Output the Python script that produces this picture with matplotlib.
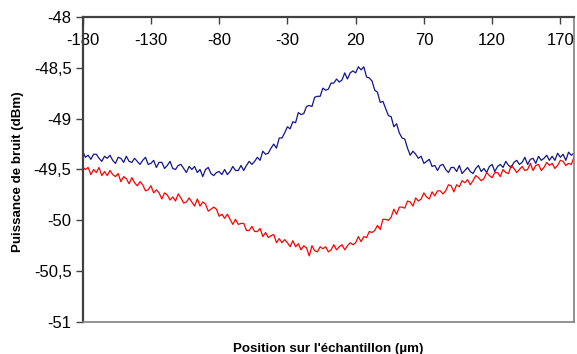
import matplotlib
matplotlib.use("Agg")
import matplotlib.pyplot as plt
import numpy as np
from matplotlib.ticker import FuncFormatter, MultipleLocator

plt.rcParams["font.family"] = ["Liberation Sans", "DejaVu Sans"]
plt.rcParams["axes.unicode_minus"] = False

# position on the sample (um), one reading every 2 um
position = np.arange(-180, 181, 2)

blue_dbm = [
    -49.32, -49.38, -49.36, -49.40, -49.35, -49.35, -49.39, -49.42, -49.37, -49.39,
    -49.36, -49.41, -49.44, -49.38, -49.39, -49.43, -49.37, -49.42, -49.43, -49.39,
    -49.42, -49.45, -49.41, -49.38, -49.45, -49.44, -49.41, -49.48, -49.43, -49.43,
    -49.49, -49.46, -49.42, -49.49, -49.50, -49.46, -49.45, -49.49, -49.53, -49.47,
    -49.50, -49.47, -49.53, -49.50, -49.57, -49.50, -49.48, -49.54, -49.56, -49.53,
    -49.52, -49.55, -49.50, -49.55, -49.52, -49.47, -49.51, -49.51, -49.46, -49.51,
    -49.46, -49.42, -49.45, -49.42, -49.38, -49.41, -49.32, -49.35, -49.34, -49.29,
    -49.25, -49.29, -49.19, -49.19, -49.14, -49.08, -49.10, -49.03, -49.04, -48.94,
    -48.96, -48.95, -48.88, -48.87, -48.88, -48.79, -48.78, -48.78, -48.70, -48.72,
    -48.71, -48.65, -48.65, -48.61, -48.64, -48.62, -48.55, -48.61, -48.55, -48.53,
    -48.55, -48.49, -48.52, -48.49, -48.59, -48.60, -48.63, -48.72, -48.74, -48.84,
    -48.83, -48.90, -48.97, -48.98, -49.08, -49.05, -49.14, -49.19, -49.20, -49.29,
    -49.36, -49.32, -49.35, -49.39, -49.37, -49.44, -49.42, -49.40, -49.47, -49.46,
    -49.51, -49.46, -49.45, -49.50, -49.53, -49.48, -49.48, -49.52, -49.46, -49.54,
    -49.51, -49.48, -49.52, -49.54, -49.49, -49.46, -49.52, -49.49, -49.53, -49.47,
    -49.45, -49.52, -49.47, -49.45, -49.48, -49.42, -49.46, -49.48, -49.43, -49.41,
    -49.45, -49.43, -49.38, -49.45, -49.40, -49.39, -49.44, -49.37, -49.41, -49.39,
    -49.36, -49.41, -49.37, -49.41, -49.34, -49.38, -49.35, -49.41, -49.33, -49.36,
    -49.34,
]

red_dbm = [
    -49.48, -49.50, -49.48, -49.55, -49.50, -49.53, -49.48, -49.56, -49.52, -49.56,
    -49.51, -49.55, -49.57, -49.54, -49.62, -49.57, -49.59, -49.64, -49.58, -49.63,
    -49.66, -49.62, -49.65, -49.71, -49.70, -49.66, -49.73, -49.70, -49.73, -49.79,
    -49.73, -49.75, -49.80, -49.77, -49.81, -49.74, -49.78, -49.83, -49.82, -49.78,
    -49.82, -49.86, -49.79, -49.86, -49.82, -49.84, -49.91, -49.89, -49.87, -49.89,
    -49.96, -49.94, -49.98, -49.94, -49.99, -50.04, -49.99, -50.04, -50.03, -50.03,
    -50.10, -50.10, -50.06, -50.11, -50.11, -50.08, -50.16, -50.12, -50.17, -50.15,
    -50.14, -50.22, -50.18, -50.22, -50.19, -50.22, -50.26, -50.20, -50.26, -50.23,
    -50.29, -50.25, -50.27, -50.35, -50.25, -50.30, -50.31, -50.26, -50.28, -50.26,
    -50.31, -50.29, -50.24, -50.29, -50.26, -50.24, -50.29, -50.25, -50.22, -50.24,
    -50.22, -50.16, -50.21, -50.16, -50.17, -50.11, -50.12, -50.10, -50.05, -50.09,
    -49.99, -49.99, -50.00, -49.97, -49.89, -49.94, -49.87, -49.87, -49.88, -49.81,
    -49.82, -49.86, -49.78, -49.81, -49.79, -49.73, -49.77, -49.79, -49.72, -49.76,
    -49.71, -49.71, -49.74, -49.71, -49.65, -49.66, -49.72, -49.65, -49.67, -49.61,
    -49.63, -49.60, -49.65, -49.61, -49.56, -49.58, -49.61, -49.59, -49.53, -49.56,
    -49.58, -49.53, -49.53, -49.57, -49.50, -49.53, -49.54, -49.46, -49.49, -49.53,
    -49.50, -49.47, -49.51, -49.50, -49.44, -49.51, -49.46, -49.45, -49.51, -49.48,
    -49.43, -49.46, -49.44, -49.49, -49.46, -49.41, -49.42, -49.46, -49.44, -49.45,
    -49.38,
]

x_ticks = [-180, -130, -80, -30, 20, 70, 120, 170]

fig = plt.figure(figsize=(5.77, 3.54), dpi=100)
ax = fig.add_axes([0.1433, 0.0904, 0.8515, 0.8616])

ax.plot(position, blue_dbm, color="#14148c", lw=0.9)
ax.plot(position, red_dbm, color="#ff0000", lw=0.9)

ax.set_xlim(-180, 180)
ax.set_ylim(-51, -48)
ax.yaxis.set_major_locator(MultipleLocator(0.5))
ax.yaxis.set_major_formatter(FuncFormatter(lambda v, p: f"{v:g}".replace(".", ",")))
ax.set_xticks(x_ticks)

# x axis sits on the top edge, labels hang just under it
ax.xaxis.set_ticks_position("top")
ax.tick_params(axis="x", direction="in", length=5, width=1, color="#404040",
               labeltop=True, labelbottom=False, pad=-22.5, labelsize=12)
ax.tick_params(axis="y", direction="out", length=5, width=1, color="#404040",
               pad=3, labelsize=12)

for side in ["top", "left"]:
    ax.spines[side].set_color("#404040")
    ax.spines[side].set_linewidth(1.6)
for side in ["right", "bottom"]:
    ax.spines[side].set_color("#808080")
    ax.spines[side].set_linewidth(1.2)

fig.text(328 / 577, 0.006, "Position sur l'\u00e9chantillon (\u00b5m)",
         ha="center", va="baseline", fontsize=9.6, fontweight="bold")
fig.text(18 / 577, 0.515, "Puissance de bruit (dBm)", rotation=90,
         ha="center", va="center", fontsize=9.6, fontweight="bold")

fig.savefig("out.png", dpi=100)
